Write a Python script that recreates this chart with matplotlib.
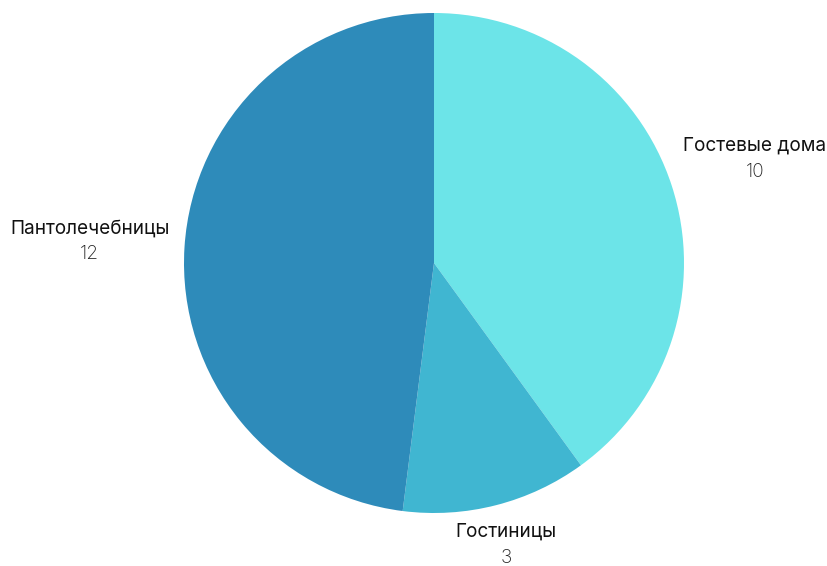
import numpy as np
import matplotlib.pyplot as plt

labels = ['Гостевые дома', 'Гостиницы', 'Пантолечебницы']
values = [10, 3, 12]
colors = ['#6ce4e8', '#40b6d1', '#2e8bba']
label_dist = [1.35, 1.165, 1.38]

plt.rcParams['font.family'] = ['Inter', 'DejaVu Sans']

fig = plt.figure(figsize=(8.27, 5.66), dpi=100)
W, H = 827, 566
cx, cy, r = 434, 263, 250
ax = fig.add_axes([(cx - r) / W, (H - cy - r) / H, 2 * r / W, 2 * r / H])

wedges, _ = ax.pie(values, colors=colors, startangle=90, counterclock=False,
                   radius=1, wedgeprops=dict(linewidth=0))
ax.set_xlim(-1, 1)
ax.set_ylim(-1, 1)
ax.set_aspect('equal')
ax.axis('off')

for w, lab, v, d in zip(wedges, labels, values, label_dist):
    mid = np.deg2rad((w.theta1 + w.theta2) / 2)
    x, y = d * np.cos(mid), d * np.sin(mid)
    ax.text(x, y + 0.052, lab, ha='center', va='center', fontsize=13.7,
            color='#111111', clip_on=False)
    ax.text(x, y - 0.052, str(v), ha='center', va='center', fontsize=13.7,
            fontweight='light', color='#222222', clip_on=False)

fig.savefig('out.png', dpi=100)
